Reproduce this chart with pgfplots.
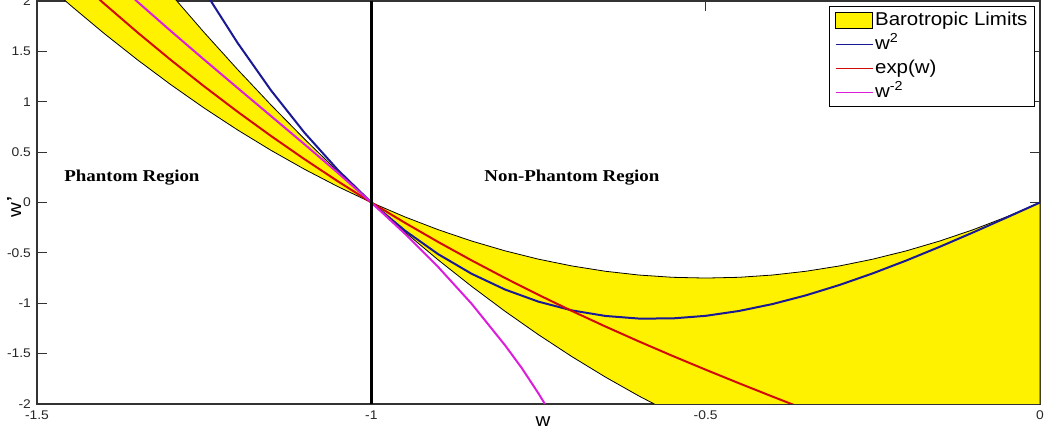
\documentclass[border=0pt]{standalone}
\usepackage{fontspec}
\setmainfont[FakeStretch=1.1]{Liberation Sans}
\newfontfamily\regfont[FakeStretch=1.14]{Liberation Serif}
\usepackage{pgfplots}
\pgfplotsset{compat=1.18}
\definecolor{cblue}{RGB}{25,25,150}
\definecolor{cred}{RGB}{210,10,10}
\definecolor{cmag}{RGB}{220,30,220}
\begin{document}
\begin{tikzpicture}
\begin{axis}[
  scale only axis, width=501.5pt, height=201.5pt,
  xmin=-1.5, xmax=0, ymin=-2, ymax=2,
  xtick={-1.5,-1,-0.5,0}, ytick={-2,-1.5,-1,-0.5,0,0.5,1,1.5,2},
  tick align=inside, major tick length=5pt,
  tick style={black!80, line width=0.5pt},
  /pgf/number format/assume math mode=true,
  ticklabel style={font=\fontsize{6.3}{7}\selectfont, text=black!85},
  yticklabel style={xshift=0.5pt},
  axis line style={black!80, line width=0.6pt},
  xlabel={w}, ylabel={w\kern0.3pt\raisebox{1.5pt}{\fontsize{8}{8}\selectfont\textbf{’}}},
  xlabel style={at={(axis description cs:0.5045,0)}, anchor=north, yshift=-6pt, inner sep=0pt, font=\fontsize{9.3}{10}\selectfont},
  ylabel style={at={(axis description cs:0,0.489)}, anchor=center, yshift=11.5pt, inner sep=0pt, font=\fontsize{9.3}{10}\selectfont},
  legend cell align=left,
  legend style={at={(1,1)}, anchor=north east, xshift=-2.5pt, yshift=-2.7pt,
    font=\fontsize{9.3}{10}\selectfont, draw=black, line width=0.5pt,
    inner xsep=2.5pt, inner ysep=1pt, row sep=0pt, column sep=0pt,
    nodes={inner xsep=1pt, inner ysep=1.5pt, text height=7pt, text depth=2pt}},
]
% left barotropic band
\addplot[fill=yellow, draw=black, line width=0.4pt,
  legend image code/.code={\draw[fill=yellow,draw=black,line width=0.5pt] (0pt,-4pt) rectangle (18.5pt,4pt);}]
coordinates {
(-1,0) (-1.05,0.1575) (-1.1,0.33) (-1.15,0.5175) (-1.2,0.72) (-1.25,0.9375)
(-1.3,1.17) (-1.35,1.4175) (-1.4,1.68) (-1.45,1.9575) (-1.5,2.25)
(-1.5,3.75) (-1.45,3.3075) (-1.4,2.88) (-1.35,2.4675) (-1.3,2.07) (-1.25,1.6875)
(-1.2,1.32) (-1.15,0.9675) (-1.1,0.63) (-1.05,0.3075) (-1,0)
} -- cycle;
\addlegendentry{Barotropic Limits}
% right barotropic band
\addplot[fill=yellow, draw=black, line width=0.4pt, forget plot]
coordinates {
(-1,0) (-0.95,-0.1425) (-0.9,-0.27) (-0.85,-0.3825) (-0.8,-0.48) (-0.75,-0.5625)
(-0.7,-0.63) (-0.65,-0.6825) (-0.6,-0.72) (-0.55,-0.7425) (-0.5,-0.75)
(-0.45,-0.7425) (-0.4,-0.72) (-0.35,-0.6825) (-0.3,-0.63) (-0.25,-0.5625)
(-0.2,-0.48) (-0.15,-0.3825) (-0.1,-0.27) (-0.05,-0.1425) (0,0)
(0,-3) (-0.5,-2.25) (-0.55,-2.0925) (-0.6,-1.92) (-0.65,-1.7325) (-0.7,-1.53)
(-0.75,-1.3125) (-0.8,-1.08) (-0.85,-0.8325) (-0.9,-0.57) (-0.95,-0.2925) (-1,0)
} -- cycle;
% w^2
\addplot[cblue, line width=1pt,
  legend image code/.code={\draw[cblue,line width=0.6pt] (0pt,0pt) -- (18.5pt,0pt);}]
coordinates {
(-1.25,2.109) (-1.24,2.0) (-1.2,1.584) (-1.15,1.1126) (-1.1,0.693) (-1.05,0.3229)
(-1,0) (-0.95,-0.2779) (-0.9,-0.513) (-0.85,-0.7076) (-0.8,-0.864) (-0.75,-0.9844)
(-0.7,-1.071) (-0.65,-1.1261) (-0.6,-1.152) (-0.55,-1.1509) (-0.5,-1.125)
(-0.45,-1.0766) (-0.4,-1.008) (-0.35,-0.9214) (-0.3,-0.819) (-0.25,-0.7031)
(-0.2,-0.576) (-0.15,-0.4399) (-0.1,-0.297) (-0.05,-0.1496) (0,0)
};
\addlegendentry{w\textsuperscript{2}}
% exp(w)
\addplot[cred, line width=1pt,
  legend image code/.code={\draw[cred,line width=0.6pt] (0pt,0pt) -- (18.5pt,0pt);}]
coordinates {
(-1.45,2.2742) (-1.4,1.9759) (-1.35,1.6897) (-1.3,1.4153) (-1.25,1.1524)
(-1.2,0.9007) (-1.15,0.66) (-1.1,0.4299) (-1.05,0.21) (-1,0)
(-0.95,-0.2005) (-0.9,-0.392) (-0.85,-0.5748) (-0.8,-0.7496) (-0.75,-0.9168)
(-0.7,-1.0769) (-0.65,-1.2307) (-0.6,-1.3786) (-0.55,-1.5214) (-0.5,-1.6598)
(-0.45,-1.7946) (-0.4,-1.9266) (-0.35,-2.0566)
};
\addlegendentry{exp(w)}
% w^-2
\addplot[cmag, line width=1pt,
  legend image code/.code={\draw[cmag,line width=0.6pt] (0pt,0pt) -- (18.5pt,0pt);}]
coordinates {
(-1.4,2.2922) (-1.35,1.9936) (-1.3,1.7025) (-1.25,1.4175) (-1.2,1.1367)
(-1.15,0.8577) (-1.1,0.5779) (-1.05,0.2936) (-1,0) (-0.95,-0.3087)
(-0.9,-0.6404) (-0.85,-1.0053) (-0.8,-1.4175) (-0.775,-1.6438) (-0.75,-1.8958)
(-0.725,-2.1677) (-0.7,-2.4667)
};
\addlegendentry{w\textsuperscript{-2}}
% phantom divide
\addplot[black, line width=1.6pt, forget plot] coordinates {(-1,-2) (-1,2)};
\node[font={\regfont\bfseries\fontsize{8.3}{9}\selectfont}] at (axis cs:-1.358,0.248) {Phantom Region};
\node[font={\regfont\bfseries\fontsize{8.3}{9}\selectfont}] at (axis cs:-0.70,0.25) {Non-Phantom Region};
\end{axis}
\pgfresetboundingbox
\path[use as bounding box] ([shift={(-18.5pt,-14pt)}]current axis.south west) rectangle ([shift={(2pt,0.5pt)}]current axis.north east);
\end{tikzpicture}
\end{document}
